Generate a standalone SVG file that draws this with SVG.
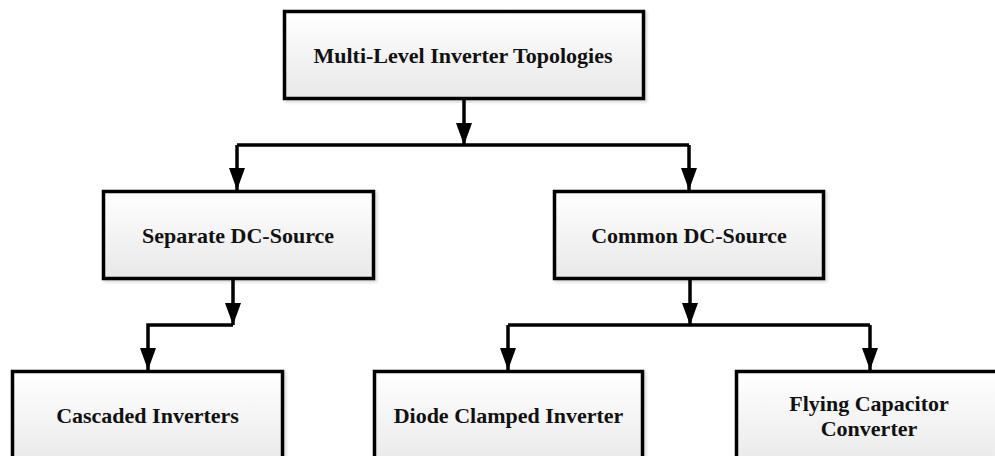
<svg xmlns="http://www.w3.org/2000/svg" width="995" height="456" viewBox="0 0 995 456">
<style>
.box{fill:url(#g);stroke:#000;stroke-width:3.5;filter:url(#sh)}
.lbl{font-family:"Liberation Serif","Times New Roman",serif;font-weight:bold;font-size:22px;fill:#111;text-anchor:middle;dominant-baseline:central}
.c{fill:none;stroke:#000;stroke-width:3.5;stroke-linejoin:miter}
.a{marker-end:url(#arr)}
</style>
<defs>
<linearGradient id="g" x1="0" y1="0" x2="0" y2="1">
<stop offset="0" stop-color="#ffffff"/>
<stop offset="1" stop-color="#e8e8e8"/>
</linearGradient>
<filter id="sh" x="-5%" y="-5%" width="115%" height="120%">
<feDropShadow dx="2" dy="2" stdDeviation="1.5" flood-color="#000" flood-opacity="0.15"/>
</filter>
<marker id="arr" markerUnits="userSpaceOnUse" markerWidth="22" markerHeight="16" refX="22" refY="8" orient="auto" viewBox="0 0 22 16">
<path d="M0 0 L22 8 L0 16 Z" fill="#000"/>
</marker>
</defs>
<g id="connectors">
<path class="c a" d="M464 99 V145"/>
<path class="c" d="M237 145 H689"/>
<path class="c a" d="M237 145 V190"/>
<path class="c a" d="M689 145 V190"/>
<path class="c a" d="M233 280 V325"/>
<path class="c a" d="M233 325 H148 V370"/>
<path class="c a" d="M690 280 V325"/>
<path class="c" d="M508 325 H870"/>
<path class="c a" d="M508 325 V370"/>
<path class="c a" d="M870 325 V370"/>
</g>
<g id="n-root">
<rect class="box" x="284.5" y="11.5" width="359" height="87"/>
<text class="lbl" x="463" y="55">Multi-Level Inverter Topologies</text>
</g>
<g id="n-separate">
<rect class="box" x="103.5" y="191.5" width="270" height="87"/>
<text class="lbl" x="238" y="235">Separate DC-Source</text>
</g>
<g id="n-common">
<rect class="box" x="554.5" y="191.5" width="269" height="87"/>
<text class="lbl" x="689" y="235">Common DC-Source</text>
</g>
<g id="n-cascaded">
<rect class="box" x="12.5" y="371.5" width="270" height="100"/>
<text class="lbl" x="147.5" y="415">Cascaded Inverters</text>
</g>
<g id="n-diode">
<rect class="box" x="374.5" y="371.5" width="268" height="100"/>
<text class="lbl" x="508.5" y="415">Diode Clamped Inverter</text>
</g>
<g id="n-flying">
<rect class="box" x="736.5" y="371.5" width="270" height="100"/>
<text class="lbl" x="869" y="403">Flying Capacitor</text>
<text class="lbl" x="869" y="428">Converter</text>
</g>
</svg>
